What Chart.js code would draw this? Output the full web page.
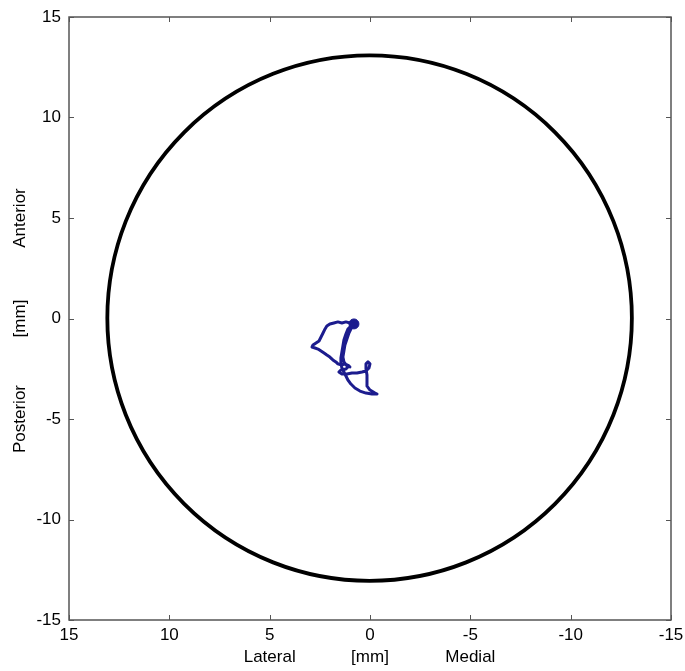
<!DOCTYPE html>
<html>
<head>
<meta charset="utf-8">
<script src="https://cdn.jsdelivr.net/npm/chart.js@4/dist/chart.umd.min.js"></script>
<style>
  html, body { margin: 0; padding: 0; background: #ffffff; }
  #wrap { width: 685px; height: 671px; }
</style>
</head>
<body>
<div id="wrap"><canvas id="c" width="685" height="671"></canvas></div>
<script>
// Axis tick values (mm), shared by both axes
const tickValues = [15, 10, 5, 0, -5, -10, -15];

// Centre-of-pressure trace (mm)
const pathX = [0.80, 1.00, 1.20, 1.40, 1.60, 1.80, 2.00, 2.15, 2.24, 2.34,
               2.44, 2.54, 2.69, 2.84, 2.89, 2.74, 2.59, 2.44, 2.29, 2.15,
               2.00, 1.85, 1.70, 1.60, 1.45, 1.25, 1.05, 1.20, 1.45, 1.55,
               1.40, 1.15, 0.90, 0.65, 0.40, 0.20, 0.05, 0.00, 0.10, 0.20,
               0.20, 0.15, 0.15, 0.15, 0.00, -0.25, -0.35, -0.10, 0.20, 0.50,
               0.75, 0.95, 1.10, 1.20, 1.30, 1.40, 1.45, 1.45, 1.40, 1.35,
               1.30, 1.20, 1.10, 0.95, 0.80, 0.90, 1.05, 1.15, 1.25, 1.30,
               1.35, 1.30, 1.15, 1.00];
const pathY = [-0.27, -0.22, -0.17, -0.22, -0.17, -0.22, -0.27, -0.37, -0.52, -0.72,
               -0.92, -1.12, -1.22, -1.32, -1.42, -1.47, -1.52, -1.62, -1.72, -1.82,
               -1.92, -2.06, -2.16, -2.26, -2.31, -2.26, -2.36, -2.51, -2.56, -2.66,
               -2.76, -2.76, -2.71, -2.71, -2.66, -2.61, -2.46, -2.26, -2.16, -2.26,
               -2.51, -2.81, -3.11, -3.36, -3.56, -3.71, -3.76, -3.76, -3.71, -3.61,
               -3.46, -3.26, -3.06, -2.86, -2.66, -2.46, -2.26, -1.97, -1.67, -1.37,
               -1.07, -0.77, -0.52, -0.37, -0.27, -0.42, -0.72, -1.02, -1.32, -1.62,
               -1.92, -2.16, -2.36, -2.41];

// Start point of the trace
const markerX = [0.80];
const markerY = [-0.27];

// Boundary circle: centre and radius (mm)
const circleCenterX = 0.02;
const circleCenterY = 0.02;
const circleRadius = 13.07;

// Axis title pieces, placed under / beside the 5, 0 and -5 ticks
const xTitleParts = ['Lateral', '[mm]', 'Medial'];
const yTitleParts = ['Anterior', '[mm]', 'Posterior'];
const titleAnchors = [5, 0, -5];

const FONT = '"Liberation Sans", Arial, sans-serif';
const FONT_SIZE = 17;
const TRACE_COLOR = '#1c1c8e';
const FRAME_COLOR = '#555555';

const pathPoints = pathX.map((x, i) => ({ x: x, y: pathY[i] }));
const markerPoints = markerX.map((x, i) => ({ x: x, y: markerY[i] }));

// Boundary circle drawn through the scales before the trace
const circlePlugin = {
  id: 'boundaryCircle',
  beforeDatasetsDraw(chart) {
    const { ctx, scales: { x, y } } = chart;
    const cx = x.getPixelForValue(circleCenterX);
    const cy = y.getPixelForValue(circleCenterY);
    const rx = Math.abs(x.getPixelForValue(circleCenterX + circleRadius) - cx);
    const ry = Math.abs(y.getPixelForValue(circleCenterY + circleRadius) - cy);
    ctx.save();
    ctx.beginPath();
    ctx.ellipse(cx, cy, rx, ry, 0, 0, Math.PI * 2);
    ctx.lineWidth = 3.8;
    ctx.strokeStyle = '#000000';
    ctx.stroke();
    ctx.restore();
  }
};

// Box frame with inward tick marks on all four sides, plus axis titles
const framePlugin = {
  id: 'boxFrame',
  afterDraw(chart) {
    const { ctx, chartArea: a, scales: { x, y } } = chart;
    const len = 5;
    ctx.save();
    ctx.strokeStyle = FRAME_COLOR;
    ctx.lineWidth = 1.5;
    ctx.strokeRect(a.left, a.top, a.right - a.left, a.bottom - a.top);
    ctx.lineWidth = 1;
    ctx.beginPath();
    tickValues.forEach(v => {
      const px = Math.round(x.getPixelForValue(v)) + 0.5;
      ctx.moveTo(px, a.bottom); ctx.lineTo(px, a.bottom - len);
      ctx.moveTo(px, a.top); ctx.lineTo(px, a.top + len);
      const py = Math.round(y.getPixelForValue(v)) + 0.5;
      ctx.moveTo(a.left, py); ctx.lineTo(a.left + len, py);
      ctx.moveTo(a.right, py); ctx.lineTo(a.right - len, py);
    });
    ctx.stroke();

    ctx.fillStyle = '#000000';
    ctx.font = FONT_SIZE + 'px ' + FONT;
    ctx.textAlign = 'center';
    ctx.textBaseline = 'middle';
    xTitleParts.forEach((t, i) => {
      ctx.fillText(t, x.getPixelForValue(titleAnchors[i]), 657);
    });
    yTitleParts.forEach((t, i) => {
      ctx.save();
      ctx.translate(20, y.getPixelForValue(titleAnchors[i]));
      ctx.rotate(-Math.PI / 2);
      ctx.fillText(t, 0, 0);
      ctx.restore();
    });
    ctx.restore();
  }
};

const setTicks = scale => { scale.ticks = tickValues.map(v => ({ value: v })); };

new Chart(document.getElementById('c'), {
  type: 'scatter',
  data: {
    datasets: [
      {
        data: pathPoints,
        showLine: true,
        borderColor: TRACE_COLOR,
        borderWidth: 3,
        borderJoinStyle: 'round',
        borderCapStyle: 'round',
        pointRadius: 0,
        tension: 0,
        fill: false
      },
      {
        data: markerPoints,
        pointRadius: 5,
        pointBackgroundColor: TRACE_COLOR,
        pointBorderColor: TRACE_COLOR,
        showLine: false
      }
    ]
  },
  options: {
    responsive: false,
    animation: false,
    devicePixelRatio: 1,
    layout: { padding: { left: 0, top: 17, right: 14, bottom: 0 } },
    plugins: { legend: { display: false }, tooltip: { enabled: false } },
    scales: {
      x: {
        type: 'linear',
        min: -15, max: 15,
        reverse: true,
        afterBuildTicks: setTicks,
        afterFit: s => { s.height = 51; s.paddingLeft = 0; s.paddingRight = 0; },
        grid: { display: false, drawTicks: false },
        border: { display: false },
        ticks: {
          color: '#000000',
          font: { family: FONT, size: FONT_SIZE },
          padding: 5,
          maxRotation: 0,
          autoSkip: false,
          callback: v => String(v)
        }
      },
      y: {
        type: 'linear',
        min: -15, max: 15,
        afterBuildTicks: setTicks,
        afterFit: s => { s.width = 69; s.paddingTop = 0; s.paddingBottom = 0; },
        grid: { display: false, drawTicks: false },
        border: { display: false },
        ticks: {
          color: '#000000',
          font: { family: FONT, size: FONT_SIZE },
          padding: 8,
          autoSkip: false,
          callback: v => String(v)
        }
      }
    }
  },
  plugins: [circlePlugin, framePlugin]
});
</script>
</body>
</html>
